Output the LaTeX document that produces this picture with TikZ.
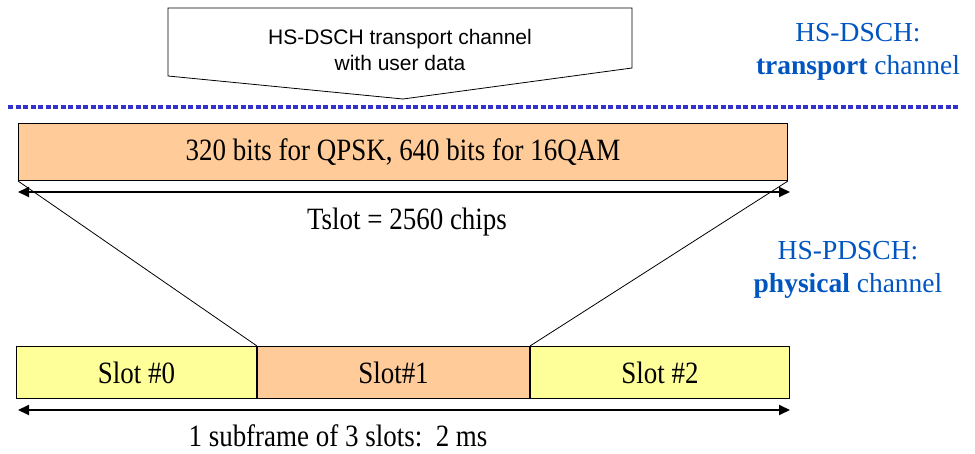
\documentclass[tikz,border=0pt]{standalone}
\usepackage{fontspec}
\setmainfont[FakeStretch=0.87]{Liberation Serif}
\newfontfamily\sidefont{Liberation Serif}
\setsansfont{Liberation Sans}
\usetikzlibrary{arrows.meta, positioning}
\definecolor{boxorange}{RGB}{255,204,153}
\definecolor{slotyellow}{RGB}{255,255,153}
\definecolor{dotblue}{RGB}{51,51,204}
\definecolor{labelblue}{RGB}{0,85,192}

\begin{document}
\begin{tikzpicture}[x=1pt, y=-1pt,
	field/.style={draw, line width=1pt, minimum height=57pt, inner sep=0pt, font=\fontsize{31}{34}\selectfont},
	span/.style={{Triangle[length=11pt,width=10pt]}-{Triangle[length=11pt,width=10pt]}, line width=1.8pt},
	side/.style={font=\sidefont\fontsize{27.5}{33}\selectfont, text=labelblue, align=center}]
	\useasboundingbox (0,0) rectangle (975,454);
	\draw [line width=0.8pt] (168,8) -- (632,8) -- (632,68) -- (403,99) -- (168,76) -- cycle;
	\node (user) [align=center, font=\sffamily\fontsize{21}{26}\selectfont] at (400,50) {HS-DSCH transport channel\\with user data};
	\coordinate (da) at (8,107);
	\coordinate (db) at (958,107);
	\draw [dotblue, line width=4pt, dash pattern=on 5pt off 2.5pt] (da) -- (db);
	\node (trans) [side] at (858,52) {HS-DSCH:\\\textbf{transport} channel};
	\node (phys) [side] at (848,270) {HS-PDSCH:\\\textbf{physical} channel};
	\node (tbox) [field, fill=boxorange, minimum width=769pt, anchor=north west] at (18,123) {320 bits for QPSK, 640 bits for 16QAM};
	\coordinate (ta) at (18,192);
	\coordinate (tb) at (790,192);
	\draw [span] (ta) -- (tb);
	\node (tslot) [font=\fontsize{31}{34}\selectfont] at (407,222) {Tslot = 2560 chips};
	\node (s0) [field, fill=slotyellow, minimum width=240pt, minimum height=52pt, anchor=north west] at (16,346) {Slot \#0};
	\node (s1) [field, fill=boxorange, minimum width=272pt, minimum height=52pt, right=0pt of s0] {Slot\#1};
	\node (s2) [field, fill=slotyellow, minimum width=259pt, minimum height=52pt, right=0pt of s1] {Slot \#2};
	\draw [line width=0.8pt] (tbox.south west) -- (s1.north west);
	\draw [line width=0.8pt] (tbox.south east) -- (s2.north west);
	\coordinate (ba) at (18,410);
	\coordinate (bb) at (790,410);
	\draw [span] (ba) -- (bb);
	\node (sub) [font=\fontsize{31}{34}\selectfont] at (338,436) {1 subframe of 3 slots:~~2 ms};
\end{tikzpicture}
\end{document}
